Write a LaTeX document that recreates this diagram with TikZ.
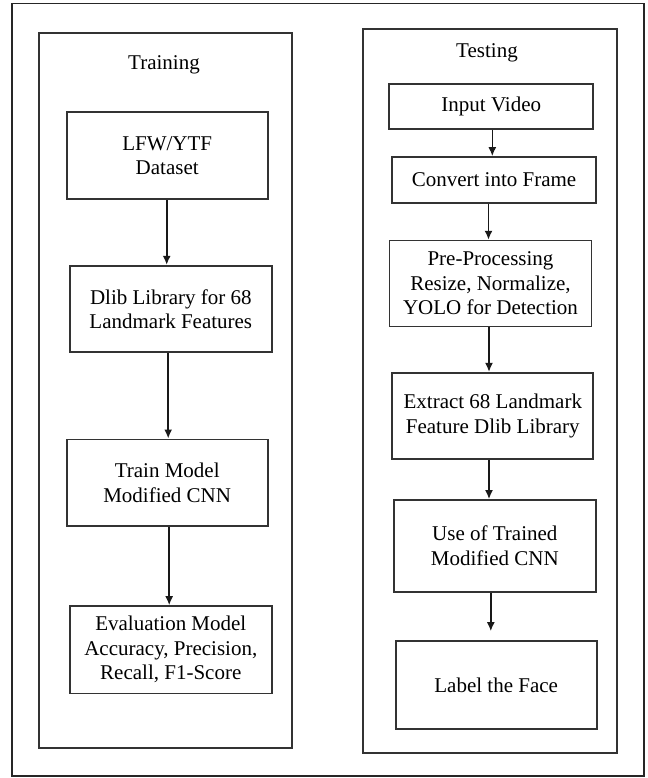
\documentclass[tikz,border=0pt]{standalone}
\usepackage{fontspec}
\setmainfont{Liberation Serif}
\usetikzlibrary{arrows.meta}
\tikzset{
  box/.style={draw=black!80, line width=1.7pt, rectangle, align=center, inner sep=0pt,
    font=\fontsize{21}{24.5}\selectfont},
  panel/.style={draw=black!80, line width=1.7pt},
  frame/.style={draw=black!85, line width=1.3pt},
  title/.style={font=\fontsize{21}{24.5}\selectfont, inner sep=0pt},
  flow/.style={draw=black!90, line width=1.6pt, -{Latex[length=9pt,width=8pt]}}
}
\begin{document}
\begin{tikzpicture}[x=1pt,y=-1pt]
\useasboundingbox (0,0) rectangle (647,778);
\fill[white] (0,0) rectangle (647,778);
% outer frame and panels
\draw[frame] (12,3.5) rectangle (644,776);
\draw[panel] (39,33) rectangle (292,748);
\draw[panel] (363,29) rectangle (617,753);
% titles
\node[title] (ttrain) at (164,65) {Training};
\node[title] (ttest) at (487,53) {Testing};
% training column
\node[box, minimum width=201pt, minimum height=87pt] (lfw) at (167.2,155.8) {LFW/YTF\\Dataset};
\node[box, minimum width=201.7pt, minimum height=86.6pt] (dlib) at (170.8,309) {Dlib Library for 68\\Landmark Features};
\node[box, minimum width=201pt, minimum height=86.7pt] (train) at (167.2,482.7) {Train Model\\Modified CNN};
\node[box, minimum width=201.7pt, minimum height=87.3pt] (eval) at (170.8,649.7) {Evaluation Model\\Accuracy, Precision,\\Recall, F1-Score};
% testing column
\node[box, minimum width=204pt, minimum height=44.7pt] (input) at (491.3,106.7) {Input Video};
\node[box, minimum width=203.4pt, minimum height=46pt] (conv) at (494,180) {Convert into Frame};
\node[box, minimum width=202pt, minimum height=86pt] (pre) at (490.5,283.6) {Pre-Processing\\Resize, Normalize,\\YOLO for Detection};
\node[box, minimum width=201pt, minimum height=86.3pt] (extr) at (492.8,415.9) {Extract 68 Landmark\\Feature Dlib Library};
\node[box, minimum width=201.7pt, minimum height=91.7pt] (use) at (494.8,545.8) {Use of Trained\\Modified CNN};
\node[box, minimum width=201pt, minimum height=88pt] (lbl) at (496.2,685) {Label the Face};
% connectors
\draw[flow] ([xshift=-0.5pt]lfw.south) -- ([xshift=-0.5pt]lfw.south |- dlib.north);
\draw[flow] ([xshift=1pt]train.north |- dlib.south) -- ([xshift=1pt]train.north);
\draw[flow] ([xshift=2pt]train.south) -- ([xshift=2pt]train.south |- eval.north);
\draw[flow] ([xshift=1pt]input.south) -- ([xshift=1pt]input.south |- conv.north);
\draw[flow] ([xshift=-2pt]pre.north |- conv.south) -- ([xshift=-2pt]pre.north);
\draw[flow] ([xshift=-1.5pt]pre.south) -- ([xshift=-1.5pt]pre.south |- extr.north);
\draw[flow] ([xshift=-3.8pt]extr.south) -- ([xshift=-3.8pt]extr.south |- use.north);
\draw[flow, shorten >=9pt] ([xshift=-4pt]use.south) -- ([xshift=-4pt]use.south |- lbl.north);
\end{tikzpicture}
\end{document}
